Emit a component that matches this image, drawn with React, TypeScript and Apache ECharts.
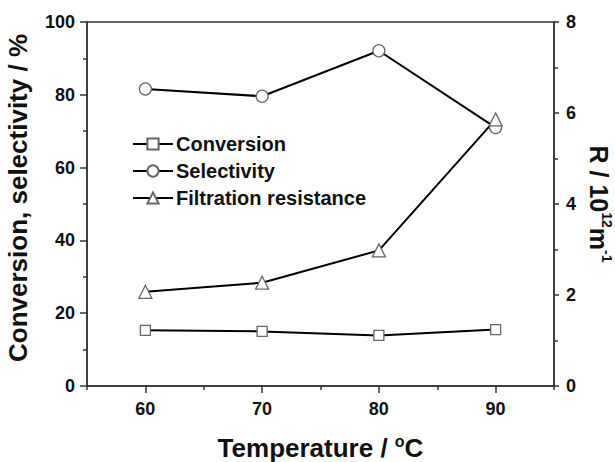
import React, { useEffect, useRef } from "react";
import * as echarts from "echarts";

const temperatures = [60, 70, 80, 90];
const minorTemperatureTicks = [55, 65, 75, 85, 95];
const conversion = [15.3, 15.0, 13.9, 15.5];
const selectivity = [81.6, 79.6, 92.1, 71.0];
const filtrationResistance = [2.07, 2.27, 2.98, 5.86];
const leftTicks = [0, 20, 40, 60, 80, 100];
const rightTicks = [0, 2, 4, 6, 8];

const FONT = "Arial, 'Liberation Sans', Helvetica, sans-serif";

export default function App() {
  const ref = useRef<HTMLDivElement>(null);
  useEffect(() => {
    if (!ref.current) return;
    const chart = echarts.init(ref.current, undefined, { renderer: "svg" });
    const axisLine = { show: true, lineStyle: { color: "#333", width: 1.5 } };
    const tickLine = { color: "#333", width: 1.5 };
    const markerStyle = { color: "#fff", borderColor: "#666", borderWidth: 1.3 };
    const mk = (name: string, data: number[], symbol: string, size: number, yIdx: number) => ({
      name,
      type: "line",
      xAxisIndex: 0,
      yAxisIndex: yIdx,
      data: temperatures.map((t, i) => [t, data[i]]),
      symbol,
      symbolSize: size,
      showAllSymbol: true,
      lineStyle: { color: "#000", width: 2 },
      itemStyle: markerStyle,
      z: 3,
    });
    const titleRich = {
      b: { fontFamily: FONT, fontWeight: "bold", fontSize: 26, color: "#111", lineHeight: 30 },
      s: { fontFamily: FONT, fontWeight: "bold", fontSize: 16, color: "#111", lineHeight: 8, verticalAlign: "top" },
    };
    chart.setOption({
      animation: false,
      backgroundColor: "#fff",
      grid: {
        left: 87,
        top: 22,
        right: 61,
        bottom: 76,
        containLabel: false,
        outerBoundsMode: "none",
        show: true,
        borderColor: "#333",
        borderWidth: 1.5,
        backgroundColor: "transparent",
      },
      legend: {
        orient: "vertical",
        left: 127,
        top: 129,
        itemWidth: 40,
        itemHeight: 14,
        itemGap: 7,
        textStyle: { fontFamily: FONT, fontWeight: "bold", fontSize: 20, color: "#111", padding: [0, 0, 0, -2] },
        data: ["Conversion", "Selectivity", "Filtration resistance"],
      },
      xAxis: [
        {
          type: "value",
          min: 55,
          max: 95,
          interval: 5,
          name: "{b|Temperature / }{s|o}{b|C}",
          nameLocation: "middle",
          nameGap: 47,
          nameTextStyle: { fontFamily: FONT, fontWeight: "bold", fontSize: 26, color: "#111", rich: titleRich },
          axisLine,
          axisTick: { show: true, inside: false, length: 7, customValues: temperatures, lineStyle: tickLine },
          axisLabel: {
            margin: 14,
            fontFamily: FONT,
            fontWeight: "bold",
            fontSize: 18,
            color: "#111",
            customValues: temperatures,
          },
          splitLine: { show: false },
        },
        {
          type: "value",
          min: 55,
          max: 95,
          interval: 5,
          position: "bottom",
          axisLine: { show: false },
          axisTick: { show: true, length: 4, customValues: minorTemperatureTicks, lineStyle: tickLine },
          axisLabel: { show: false },
          splitLine: { show: false },
        },
      ],
      yAxis: [
        {
          type: "value",
          min: leftTicks[0],
          max: leftTicks[leftTicks.length - 1],
          interval: 20,
          position: "left",
          name: "Conversion, selectivity / %",
          nameLocation: "middle",
          nameGap: 56,
          nameRotate: 90,
          nameTextStyle: { fontFamily: FONT, fontWeight: "bold", fontSize: 26, color: "#111", padding: [0, 0, 0, 12] },
          axisLine,
          axisTick: { show: true, length: 7, lineStyle: tickLine },
          minorTick: { show: true, splitNumber: 2, length: 4, lineStyle: tickLine },
          axisLabel: { margin: 12, fontFamily: FONT, fontWeight: "bold", fontSize: 18, color: "#111" },
          splitLine: { show: false },
        },
        {
          type: "value",
          min: rightTicks[0],
          max: rightTicks[rightTicks.length - 1],
          interval: 2,
          position: "right",
          name: "{b|R / 10}{s|12}{b|m}{s|-1}",
          nameLocation: "middle",
          nameGap: 23,
          nameRotate: -90,
          nameTextStyle: {
            fontFamily: FONT,
            fontWeight: "bold",
            fontSize: 25,
            color: "#111",
            rich: {
              b: { fontFamily: FONT, fontWeight: "bold", fontSize: 25, color: "#111", lineHeight: 30 },
              s: { fontFamily: FONT, fontWeight: "bold", fontSize: 14, color: "#111", lineHeight: 10, verticalAlign: "top" },
            },
          },
          axisLine,
          axisTick: { show: true, length: 5, lineStyle: tickLine },
          minorTick: { show: true, splitNumber: 2, length: 4, lineStyle: tickLine },
          axisLabel: { margin: 12, fontFamily: FONT, fontWeight: "bold", fontSize: 18, color: "#111" },
          splitLine: { show: false },
        },
      ],
      series: [
        mk("Conversion", conversion, "rect", 10, 0),
        mk("Selectivity", selectivity, "circle", 12, 0),
        mk("Filtration resistance", filtrationResistance, "triangle", 13, 1),
      ],
    });
    return () => chart.dispose();
  }, []);
  return (
    <div
      ref={ref}
      style={{ position: "absolute", left: 0, top: 0, width: 615, height: 462 }}
    />
  );
}
